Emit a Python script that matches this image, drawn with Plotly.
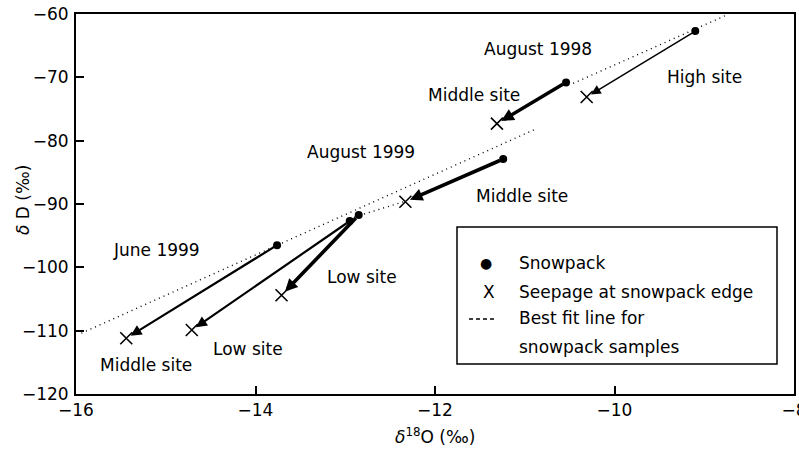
import plotly.graph_objects as go

# ---- data ----
snow_x = [-9.10, -10.54, -11.24, -13.76, -12.85, -12.95]
snow_y = [-62.7, -70.8, -82.9, -96.5, -91.75, -92.7]
seep_x = [-10.31, -11.31, -12.33, -15.44, -13.71, -14.71]
seep_y = [-73.1, -77.3, -89.65, -111.2, -104.4, -109.9]
arrow_weight = ["thin", "thick", "thick", "medium", "thick", "medium"]

fit_x = [[-15.94, -10.90], [-12.95, -12.32], [-10.46, -8.75]]
fit_y = [[-110.4, -78.3], [-92.3, -89.5], [-70.95, -60.16]]

x_ticks = [-16, -14, -12, -10, -8]
y_ticks = [-120, -110, -100, -90, -80, -70, -60]

labels = ["August 1998", "High site", "Middle site", "August 1999", "Middle site",
          "June 1999", "Low site", "Low site", "Middle site"]
label_x = [-10.85, -9.0, -11.57, -12.82, -11.03, -15.10, -12.81, -14.08, -15.22]
label_y = [-65.5, -69.9, -72.8, -81.8, -88.75, -97.3, -101.5, -112.9, -115.45]

FONT = "DejaVu Sans, Liberation Sans, sans-serif"
FS = 17

W, H = 799, 452
L, R, T, B = 76, 794, 14, 394  # plot area in page pixels

fig = go.Figure()

for fx, fy in zip(fit_x, fit_y):
    fig.add_trace(go.Scatter(x=fx, y=fy, mode="lines",
                             line=dict(color="black", width=1.4, dash="1px,4px"),
                             showlegend=False, hoverinfo="skip"))

fig.add_trace(go.Scatter(x=snow_x, y=snow_y, mode="markers",
                         marker=dict(symbol="circle", size=8, color="black"),
                         showlegend=False))
fig.add_trace(go.Scatter(x=seep_x, y=seep_y, mode="markers",
                         marker=dict(symbol="x-thin-open", size=12, color="black",
                                     line=dict(color="black", width=1.6)),
                         showlegend=False))

widths = {"thin": 1.5, "medium": 2.2, "thick": 3.6}
sizes = {"thin": 1.3, "medium": 1.0, "thick": 0.7}
for sx, sy, ex, ey, w in zip(snow_x, snow_y, seep_x, seep_y, arrow_weight):
    fig.add_annotation(x=ex, y=ey, ax=sx, ay=sy, xref="x", yref="y",
                       axref="x", ayref="y", text="", showarrow=True,
                       arrowhead=2, arrowwidth=widths[w], arrowsize=sizes[w],
                       arrowcolor="black", standoff=5, startstandoff=2)

for t, lx, ly in zip(labels, label_x, label_y):
    fig.add_annotation(x=lx, y=ly, xref="x", yref="y", text=t, showarrow=False,
                       xanchor="center", yanchor="middle",
                       font=dict(family=FONT, size=FS, color="black"))

def px(x):
    return (x - L) / (R - L)
def py(y):
    return (B - y) / (B - T)

def note(x, y, text, size=FS, xanchor="center", angle=0):
    fig.add_annotation(xref="paper", yref="paper", x=px(x), y=py(y), text=text,
                       showarrow=False, xanchor=xanchor, yanchor="middle",
                       textangle=angle,
                       font=dict(family=FONT, size=size, color="black"))

# ---- hand-drawn legend box ----
fig.add_shape(type="rect", xref="paper", yref="paper",
              x0=px(457), x1=px(777), y0=py(364), y1=py(227),
              line=dict(color="black", width=1.5), fillcolor="white", layer="above")
note(486, 263, "●", size=14)
note(489, 292, "X")
fig.add_shape(type="line", xref="paper", yref="paper",
              x0=px(469), x1=px(496), y0=py(319), y1=py(319),
              line=dict(color="black", width=1.4, dash="4px,3px"), layer="above")
legend_texts = ["Snowpack", "Seepage at snowpack edge", "Best fit line for", "snowpack samples"]
legend_ys = [263, 292, 318, 347]
for t, yy in zip(legend_texts, legend_ys):
    note(517, yy, t, xanchor="left")

# axis titles
note(435, 436, "<i>δ</i><sup>18</sup>O (‰)")
note(23, 200, "<i>δ</i> D (‰)", angle=-90)

axis_common = dict(showgrid=False, zeroline=False, showline=True, linecolor="black",
                   linewidth=2, mirror=True, ticks="inside", ticklen=8, tickwidth=1.5,
                   tickcolor="black", automargin=False, ticklabeloverflow="allow",
                   tickfont=dict(family=FONT, size=FS, color="black"))
fig.update_xaxes(range=[-16, -8], tickvals=x_ticks, **axis_common)
fig.update_yaxes(range=[-120, -60], tickvals=y_ticks, ticklabelstandoff=2, **axis_common)

fig.update_layout(width=W, height=H, plot_bgcolor="white", paper_bgcolor="white",
                  margin=dict(l=L, r=W - R, t=T, b=H - B),
                  showlegend=False,
                  font=dict(family=FONT, size=FS, color="black"))

fig.write_html("out.html", config={"displayModeBar": False},
               post_script="document.body.style.margin='0';document.body.style.overflow='hidden';")
